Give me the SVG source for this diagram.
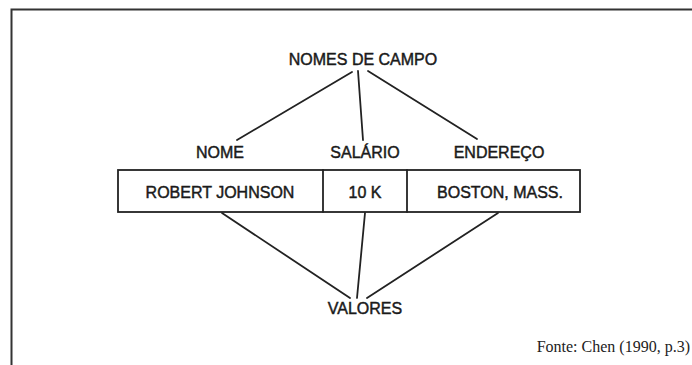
<svg xmlns="http://www.w3.org/2000/svg" width="692" height="365" viewBox="0 0 692 365">
<style>
.lbl{font-family:"Liberation Sans",Arial,Helvetica,sans-serif;font-size:16px;fill:#1a1a1a;stroke:#1a1a1a;stroke-width:0.45;text-anchor:middle}
.ln{stroke:#222;stroke-width:1.8;fill:none;stroke-linecap:round}
.box{stroke:#222;stroke-width:1.8;fill:#fff}
.src{font-family:"Liberation Serif","Times New Roman",serif;font-size:16px;fill:#222;text-anchor:end}
</style>
<rect width="692" height="365" fill="#fff"/>
<g id="frame">
<path d="M692 9.5 H11.5 V365" fill="none" stroke="#333" stroke-width="2"/>
</g>
<g id="connectors">
<line class="ln" x1="352" y1="72" x2="237" y2="140"/>
<line class="ln" x1="358" y1="71" x2="363" y2="140"/>
<line class="ln" x1="368" y1="71" x2="477" y2="139"/>
<line class="ln" x1="222" y1="213" x2="350" y2="298"/>
<line class="ln" x1="365" y1="213" x2="357" y2="298"/>
<line class="ln" x1="498" y1="213" x2="367" y2="298"/>
</g>
<g id="campo">
<text class="lbl" x="363" y="65">NOMES DE CAMPO</text>
</g>
<g id="nome">
<text class="lbl" x="220" y="158">NOME</text>
</g>
<g id="salario">
<text class="lbl" x="365" y="157.5">SALÁRIO</text>
</g>
<g id="endereco">
<text class="lbl" x="499" y="157.5">ENDEREÇO</text>
</g>
<g id="registro">
<rect class="box" x="118" y="170" width="462" height="42"/>
<line class="ln" x1="323" y1="170" x2="323" y2="212"/>
<line class="ln" x1="407" y1="170" x2="407" y2="212"/>
<text class="lbl" x="220" y="197.5">ROBERT JOHNSON</text>
<text class="lbl" x="365" y="197.5">10 K</text>
<text class="lbl" x="500" y="197.5">BOSTON, MASS.</text>
</g>
<g id="valores">
<text class="lbl" x="365" y="313.5">VALORES</text>
</g>
<g id="fonte">
<text class="src" x="690" y="352">Fonte: Chen (1990, p.3)</text>
</g>
</svg>
